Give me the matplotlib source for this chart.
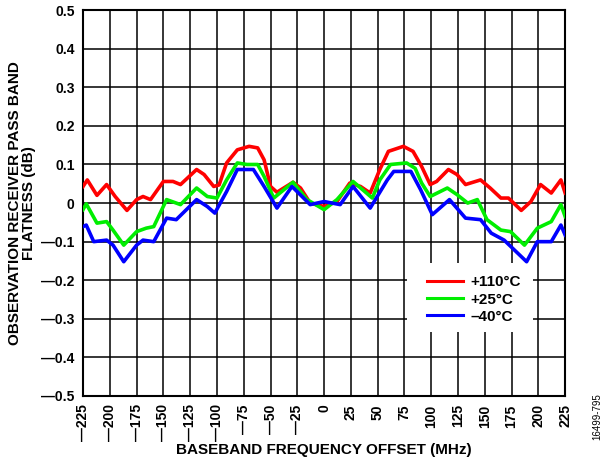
import matplotlib.pyplot as plt
from matplotlib.patches import Rectangle

plt.rcParams['font.family'] = ['Liberation Sans', 'DejaVu Sans']
plt.rcParams['font.weight'] = 'bold'

# frequency offset (MHz) and flatness (dB)
x_red = [-225, -221, -212, -203, -195, -184, -175, -169, -162, -150, -141, -134, -119, -112, -103,
         -98, -91, -81, -70, -62, -56, -50, -44, -29, -22, -13, 0, 12, 24, 34, 43, 52, 60, 74, 83,
         91, 99, 105, 116, 124, 132, 146, 155, 165, 172, 184, 193, 202, 212, 221, 225]
y_red = [0.043, 0.06, 0.02, 0.048, 0.017, -0.019, 0.009, 0.017, 0.009, 0.056, 0.056, 0.048, 0.087, 0.074, 0.043,
         0.047, 0.104, 0.138, 0.147, 0.143, 0.112, 0.043, 0.028, 0.054, 0.039, 0.0, -0.009, 0.004, 0.052, 0.043, 0.026, 0.087, 0.134, 0.147, 0.134,
         0.095, 0.048, 0.056, 0.087, 0.074, 0.048, 0.06, 0.039, 0.013, 0.013, -0.019, 0.004, 0.048, 0.026, 0.06, 0.026]

x_green = [-225, -222, -212, -203, -197, -187, -175, -166, -159, -147, -134, -119, -109, -100, -91,
           -81, -72, -62, -56, -47, -29, -16, 0, 12, 27, 45, 52, 62, 77, 85, 91, 99, 115, 124,
           134, 143, 152, 165, 174, 187, 199, 212, 221, 225]
y_green = [-0.017, -0.002, -0.052, -0.048, -0.07, -0.109, -0.074, -0.065, -0.061, 0.009, -0.004, 0.039, 0.017, 0.013, 0.06,
           0.104, 0.1, 0.1, 0.069, 0.013, 0.054, 0.009, -0.017, 0.009, 0.056, 0.013, 0.06, 0.1, 0.104, 0.09, 0.052, 0.017, 0.039, 0.022,
           0.0, 0.009, -0.043, -0.07, -0.074, -0.109, -0.065, -0.048, -0.004, -0.035]

x_blue = [-225, -222, -215, -203, -197, -187, -175, -169, -159, -147, -138, -119, -109, -102, -91,
          -81, -66, -56, -44, -30, -13, 0, 15, 27, 43, 59, 65, 81, 90, 101, 117, 132, 146, 156,
          168, 189, 199, 212, 221, 225]
y_blue = [-0.061, -0.057, -0.1, -0.096, -0.109, -0.152, -0.109, -0.096, -0.1, -0.039, -0.043, 0.009, -0.009, -0.026, 0.03,
          0.087, 0.087, 0.043, -0.013, 0.043, -0.004, 0.004, -0.004, 0.043, -0.013, 0.06, 0.082, 0.082, 0.035, -0.03, 0.009, -0.039, -0.043, -0.078,
          -0.096, -0.152, -0.1, -0.1, -0.057, -0.083]

labels = ['+110°C', '+25°C', '\u201340°C']
xticks = list(range(-225, 226, 25))
yticks = [-0.5, -0.4, -0.3, -0.2, -0.1, 0, 0.1, 0.2, 0.3, 0.4, 0.5]


def fmt(v):
    s = '%g' % abs(v)
    return ('\u2014' + s) if v < 0 else s


fig = plt.figure(figsize=(6.15, 4.61), dpi=100)
ax = fig.add_axes([0.135, 0.141, 0.784, 0.837])

ax.plot(x_red, y_red, color='#ff0000', lw=2.6, label=labels[0], zorder=3)
ax.plot(x_green, y_green, color='#00ee00', lw=2.6, label=labels[1], zorder=3)
ax.plot(x_blue, y_blue, color='#0000ff', lw=2.6, label=labels[2], zorder=3)

ax.set_xlim(-225, 225)
ax.set_ylim(-0.5, 0.5)
ax.set_xticks(xticks)
ax.set_xticklabels([fmt(v) for v in xticks], rotation=90, fontsize=10, fontweight='bold')
ax.set_yticks(yticks)
ax.set_yticklabels([fmt(round(v, 1)) for v in yticks], fontsize=10, fontweight='bold')
ax.tick_params(length=0, pad=6)
ax.grid(True, color='black', lw=1.1)
for sp in ax.spines.values():
    sp.set_linewidth(1.5)

ax.set_xlabel('BASEBAND FREQUENCY OFFSET (MHz)', fontsize=11, fontweight='bold', labelpad=1)
ax.set_ylabel('OBSERVATION RECEIVER PASS BAND\nFLATNESS (dB)', fontsize=11, fontweight='bold',
              labelpad=4, linespacing=1.0)

# white patch behind the legend, covering the grid
ax.add_patch(Rectangle((0.672, 0.166), 0.262, 0.179, transform=ax.transAxes,
                       facecolor='white', edgecolor='none', zorder=2))
leg = ax.legend(loc='center', bbox_to_anchor=(0.81, 0.25), frameon=False,
                prop={'weight': 'bold', 'size': 11}, handlelength=2.4,
                labelspacing=0.2, handletextpad=0.45, borderpad=0)
for line in leg.get_lines():
    line.set_linewidth(2.2)

fig.text(0.972, 0.045, '16499-795', rotation=90, fontsize=7, fontweight='normal', ha='center', va='bottom')

fig.savefig('out.png', dpi=100)
